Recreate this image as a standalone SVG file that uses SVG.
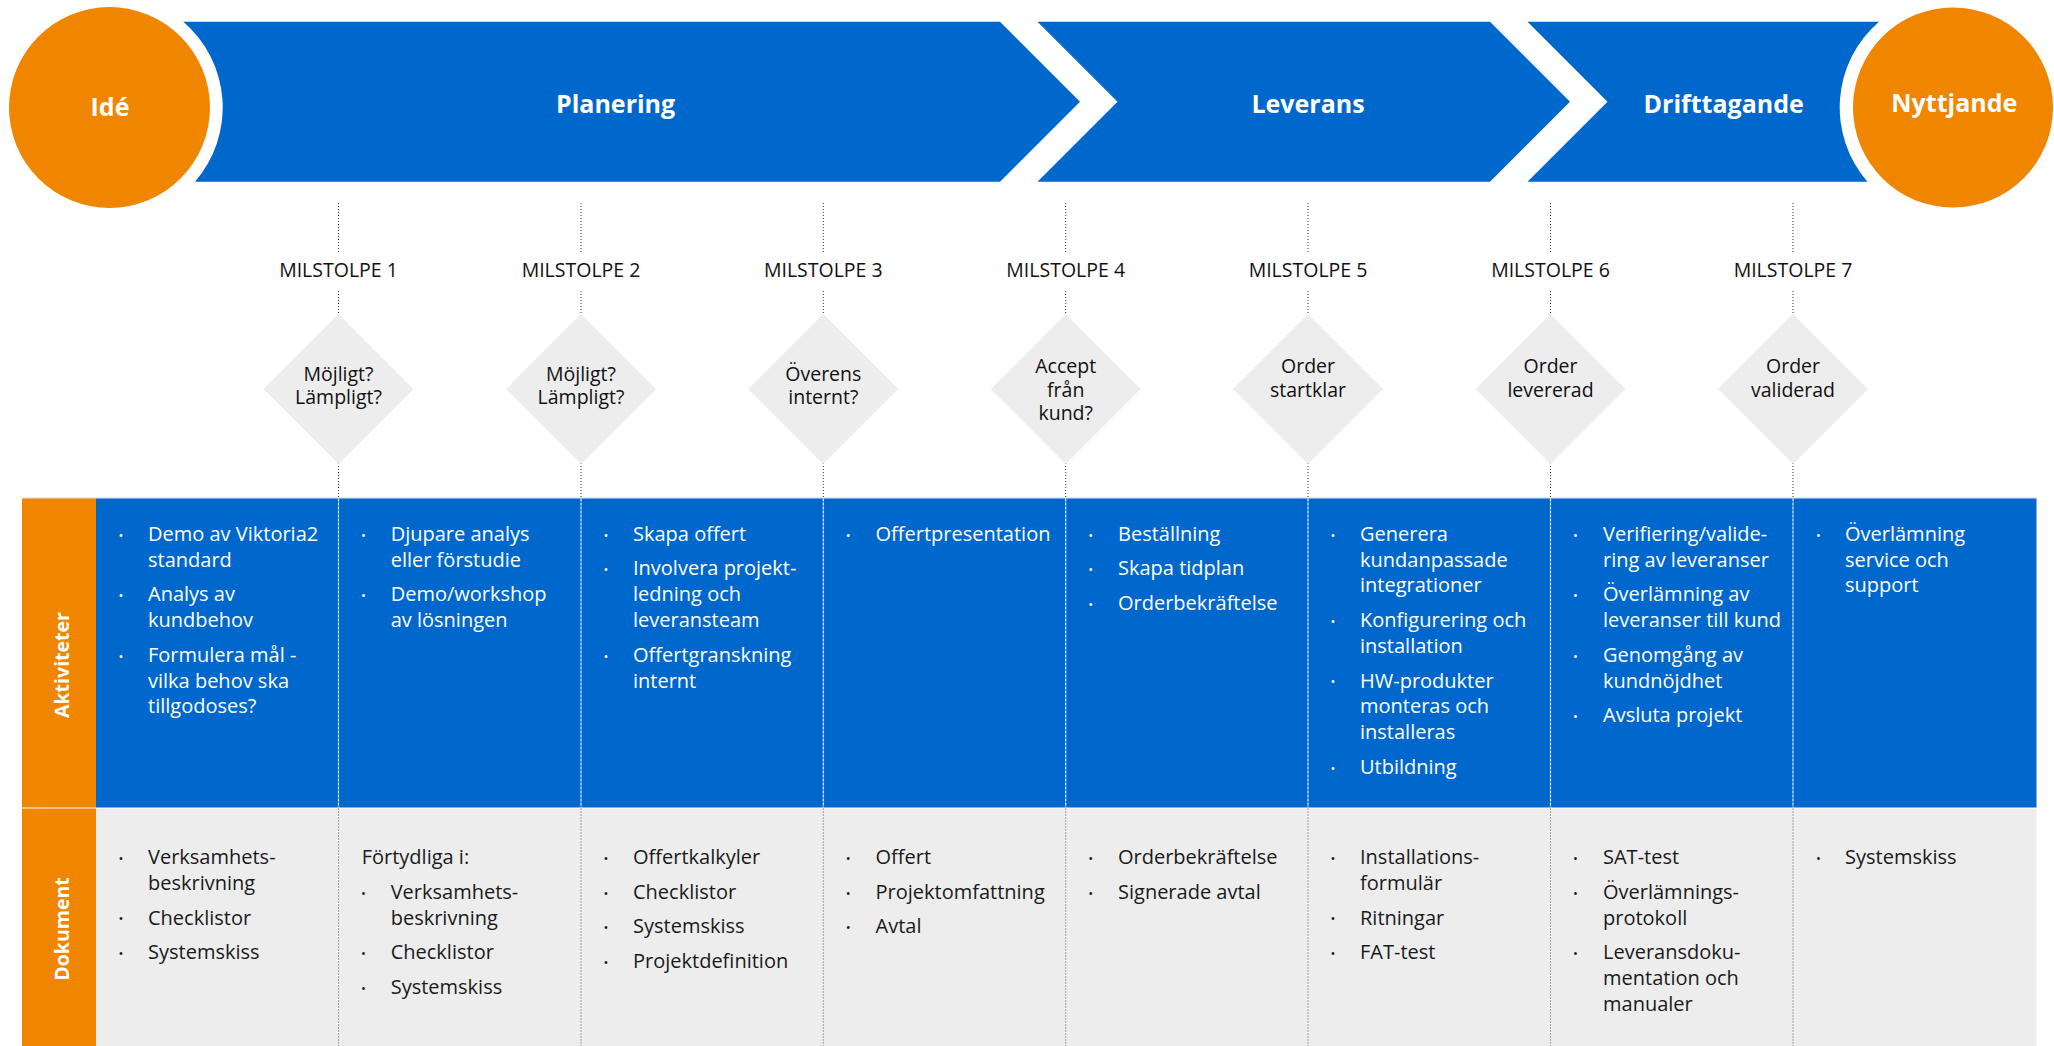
<svg xmlns="http://www.w3.org/2000/svg" width="2054" height="1046" viewBox="0 0 2054 1046">
<style>
text{font-family:"Open Sans","Liberation Sans",sans-serif}
.hdr{font-size:25px;font-weight:700;fill:#fff;text-anchor:middle}
.ms{font-size:19.5px;font-weight:500;fill:#111;text-anchor:middle}
.dq{font-size:19.5px;font-weight:500;fill:#111;text-anchor:middle}
.row{font-size:19.5px;font-weight:700;fill:#fff;text-anchor:middle}
.w{font-size:20px;fill:#fff}
.k{font-size:20px;fill:#1a1a1a}
.bw{font-size:13px;fill:#fff;text-anchor:middle}
.bk{font-size:13px;fill:#1a1a1a;text-anchor:middle}
.blue{fill:#0068CC}
.orange{fill:#F08500}
.dia{fill:#EDEDED}
.dot{stroke:#333;stroke-width:1;stroke-dasharray:1 2;fill:none}
.wsep{stroke:#E6EEF8;stroke-width:1.2;stroke-dasharray:3 1;fill:none}
.ksep{stroke:#555;stroke-width:1;stroke-dasharray:1 2;fill:none}
</style>
<rect width="2054" height="1046" fill="#fff"/>

<!-- Phase header -->
<g id="ide">
<circle class="orange" cx="109.5" cy="107.5" r="100.5"/>
<text class="hdr" x="110" y="115.7">Idé</text>
</g>
<g id="planering">
<path class="blue" d="M183.3,21.7 L1000,21.7 L1080,101.7 L1000,181.7 L195,181.7 A113.2,113.2 0 0 0 183.3,21.7 Z"/>
<text class="hdr" x="615.6" y="113">Planering</text>
</g>
<g id="leverans">
<path class="blue" d="M1037.5,21.7 L1490,21.7 L1570,101.7 L1490,181.7 L1037.5,181.7 L1117.5,101.7 Z"/>
<text class="hdr" x="1308" y="113">Leverans</text>
</g>
<g id="drifttagande">
<path class="blue" d="M1527.5,21.7 L1879,21.7 A113.3,113.3 0 0 0 1867.4,181.7 L1527.5,181.7 L1607.5,101.7 Z"/>
<text class="hdr" x="1723.7" y="113">Drifttagande</text>
</g>
<g id="nyttjande">
<circle class="orange" cx="1953" cy="107.5" r="100"/>
<text class="hdr" x="1954.3" y="112">Nyttjande</text>
</g>

<!-- Table background -->
<g id="table">
<rect x="22" y="497.5" width="2014.5" height="1" fill="#C9D5E8"/>
<rect class="orange" x="22" y="498.5" width="74" height="309"/>
<rect class="blue" x="96" y="498.5" width="1940.5" height="309"/>
<rect class="orange" x="22" y="808.5" width="74" height="237.5"/>
<rect x="96" y="808.5" width="1940.5" height="237.5" fill="#EDEDED"/>
</g>
<g id="row-aktiviteter">
<text class="row" transform="translate(69.3,665) rotate(-90)">Aktiviteter</text>
</g>
<g id="row-dokument">
<text class="row" transform="translate(69.3,929) rotate(-90)">Dokument</text>
</g>

<!-- Connectors: milestone dotted lines -->
<g id="connectors">
<path class="dot" d="M338.5,203V254M338.5,291V314M338.5,463V498"/>
<path class="dot" d="M581,203V254M581,291V314M581,463V498"/>
<path class="dot" d="M823.3,203V254M823.3,291V314M823.3,463V498"/>
<path class="dot" d="M1065.7,203V254M1065.7,291V314M1065.7,463V498"/>
<path class="dot" d="M1308,203V254M1308,291V314M1308,463V498"/>
<path class="dot" d="M1550.5,203V254M1550.5,291V314M1550.5,463V498"/>
<path class="dot" d="M1793,203V254M1793,291V314M1793,463V498"/>
<path class="wsep" d="M338.5,498.5V807.5M581,498.5V807.5M823.3,498.5V807.5M1065.7,498.5V807.5M1308,498.5V807.5M1550.5,498.5V807.5M1793,498.5V807.5"/>
<path class="ksep" d="M338.5,808.5V1046M581,808.5V1046M823.3,808.5V1046M1065.7,808.5V1046M1308,808.5V1046M1550.5,808.5V1046M1793,808.5V1046"/>
</g>

<!-- Milestones -->
<g id="milstolpe1">
<text class="ms" x="338.5" y="276.7">MILSTOLPE 1</text>
<polygon class="dia" points="338.5,314 413.5,389 338.5,464 263.5,389"/>
<text class="dq" x="338.5" y="380.5">Möjligt?</text>
<text class="dq" x="338.5" y="403.5">Lämpligt?</text>
</g>
<g id="milstolpe2">
<text class="ms" x="581" y="276.7">MILSTOLPE 2</text>
<polygon class="dia" points="581,314 656,389 581,464 506,389"/>
<text class="dq" x="581" y="380.5">Möjligt?</text>
<text class="dq" x="581" y="403.5">Lämpligt?</text>
</g>
<g id="milstolpe3">
<text class="ms" x="823.3" y="276.7">MILSTOLPE 3</text>
<polygon class="dia" points="823.3,314 898.3,389 823.3,464 748.3,389"/>
<text class="dq" x="823.3" y="380.5">Överens</text>
<text class="dq" x="823.3" y="403.5">internt?</text>
</g>
<g id="milstolpe4">
<text class="ms" x="1065.7" y="276.7">MILSTOLPE 4</text>
<polygon class="dia" points="1065.7,314 1140.7,389 1065.7,464 990.7,389"/>
<text class="dq" x="1065.7" y="373.3">Accept</text>
<text class="dq" x="1065.7" y="396.5">från</text>
<text class="dq" x="1065.7" y="419.7">kund?</text>
</g>
<g id="milstolpe5">
<text class="ms" x="1308" y="276.7">MILSTOLPE 5</text>
<polygon class="dia" points="1308,314 1383,389 1308,464 1233,389"/>
<text class="dq" x="1308" y="373.3">Order</text>
<text class="dq" x="1308" y="396.5">startklar</text>
</g>
<g id="milstolpe6">
<text class="ms" x="1550.5" y="276.7">MILSTOLPE 6</text>
<polygon class="dia" points="1550.5,314 1625.5,389 1550.5,464 1475.5,389"/>
<text class="dq" x="1550.5" y="373.3">Order</text>
<text class="dq" x="1550.5" y="396.5">levererad</text>
</g>
<g id="milstolpe7">
<text class="ms" x="1793" y="276.7">MILSTOLPE 7</text>
<polygon class="dia" points="1793,314 1868,389 1793,464 1718,389"/>
<text class="dq" x="1793" y="373.3">Order</text>
<text class="dq" x="1793" y="396.5">validerad</text>
</g>

<!-- Aktiviteter cells -->
<g id="akt-1">
<text class="bw" x="121" y="539.5">•</text><text class="w" x="148" y="540.7">Demo av Viktoria2</text><text class="w" x="148" y="566.5">standard</text>
<text class="bw" x="121" y="600">•</text><text class="w" x="148" y="601.2">Analys av</text><text class="w" x="148" y="627">kundbehov</text>
<text class="bw" x="121" y="660.5">•</text><text class="w" x="148" y="661.7">Formulera mål -</text><text class="w" x="148" y="687.5">vilka behov ska</text><text class="w" x="148" y="713.3">tillgodoses?</text>
</g>
<g id="akt-2">
<text class="bw" x="363.5" y="539.5">•</text><text class="w" x="390.7" y="540.7">Djupare analys</text><text class="w" x="390.7" y="566.5">eller förstudie</text>
<text class="bw" x="363.5" y="600">•</text><text class="w" x="390.7" y="601.2">Demo/workshop</text><text class="w" x="390.7" y="627">av lösningen</text>
</g>
<g id="akt-3">
<text class="bw" x="606" y="539.5">•</text><text class="w" x="633" y="540.7">Skapa offert</text>
<text class="bw" x="606" y="574.2">•</text><text class="w" x="633" y="575.4">Involvera projekt-</text><text class="w" x="633" y="601.2">ledning och</text><text class="w" x="633" y="627">leveransteam</text>
<text class="bw" x="606" y="660.5">•</text><text class="w" x="633" y="661.7">Offertgranskning</text><text class="w" x="633" y="687.5">internt</text>
</g>
<g id="akt-4">
<text class="bw" x="848.3" y="539.5">•</text><text class="w" x="875.5" y="540.7">Offertpresentation</text>
</g>
<g id="akt-5">
<text class="bw" x="1090.7" y="539.5">•</text><text class="w" x="1118" y="540.7">Beställning</text>
<text class="bw" x="1090.7" y="574.2">•</text><text class="w" x="1118" y="575.4">Skapa tidplan</text>
<text class="bw" x="1090.7" y="608.9">•</text><text class="w" x="1118" y="610.1">Orderbekräftelse</text>
</g>
<g id="akt-6">
<text class="bw" x="1333" y="539.5">•</text><text class="w" x="1360" y="540.7">Generera</text><text class="w" x="1360" y="566.5">kundanpassade</text><text class="w" x="1360" y="592.3">integrationer</text>
<text class="bw" x="1333" y="625.8">•</text><text class="w" x="1360" y="627">Konfigurering och</text><text class="w" x="1360" y="652.8">installation</text>
<text class="bw" x="1333" y="686.3">•</text><text class="w" x="1360" y="687.5">HW-produkter</text><text class="w" x="1360" y="713.3">monteras och</text><text class="w" x="1360" y="739.1">installeras</text>
<text class="bw" x="1333" y="772.6">•</text><text class="w" x="1360" y="773.8">Utbildning</text>
</g>
<g id="akt-7">
<text class="bw" x="1575.5" y="539.5">•</text><text class="w" x="1603" y="540.7">Verifiering/valide-</text><text class="w" x="1603" y="566.5">ring av leveranser</text>
<text class="bw" x="1575.5" y="600">•</text><text class="w" x="1603" y="601.2">Överlämning av</text><text class="w" x="1603" y="627">leveranser till kund</text>
<text class="bw" x="1575.5" y="660.5">•</text><text class="w" x="1603" y="661.7">Genomgång av</text><text class="w" x="1603" y="687.5">kundnöjdhet</text>
<text class="bw" x="1575.5" y="721">•</text><text class="w" x="1603" y="722.2">Avsluta projekt</text>
</g>
<g id="akt-8">
<text class="bw" x="1818.5" y="539.5">•</text><text class="w" x="1845" y="540.7">Överlämning</text><text class="w" x="1845" y="566.5">service och</text><text class="w" x="1845" y="592.3">support</text>
</g>

<!-- Dokument cells -->
<g id="dok-1">
<text class="bk" x="121" y="862.8">•</text><text class="k" x="148" y="864">Verksamhets-</text><text class="k" x="148" y="889.8">beskrivning</text>
<text class="bk" x="121" y="923.3">•</text><text class="k" x="148" y="924.5">Checklistor</text>
<text class="bk" x="121" y="958">•</text><text class="k" x="148" y="959.2">Systemskiss</text>
</g>
<g id="dok-2">
<text class="k" x="361.7" y="864">Förtydliga i:</text>
<text class="bk" x="363.5" y="897.5">•</text><text class="k" x="390.7" y="898.7">Verksamhets-</text><text class="k" x="390.7" y="924.5">beskrivning</text>
<text class="bk" x="363.5" y="958">•</text><text class="k" x="390.7" y="959.2">Checklistor</text>
<text class="bk" x="363.5" y="992.7">•</text><text class="k" x="390.7" y="993.9">Systemskiss</text>
</g>
<g id="dok-3">
<text class="bk" x="606" y="862.8">•</text><text class="k" x="633" y="864">Offertkalkyler</text>
<text class="bk" x="606" y="897.5">•</text><text class="k" x="633" y="898.7">Checklistor</text>
<text class="bk" x="606" y="932.2">•</text><text class="k" x="633" y="933.4">Systemskiss</text>
<text class="bk" x="606" y="966.9">•</text><text class="k" x="633" y="968.1">Projektdefinition</text>
</g>
<g id="dok-4">
<text class="bk" x="848.3" y="862.8">•</text><text class="k" x="875.5" y="864">Offert</text>
<text class="bk" x="848.3" y="897.5">•</text><text class="k" x="875.5" y="898.7">Projektomfattning</text>
<text class="bk" x="848.3" y="932.2">•</text><text class="k" x="875.5" y="933.4">Avtal</text>
</g>
<g id="dok-5">
<text class="bk" x="1090.7" y="862.8">•</text><text class="k" x="1118" y="864">Orderbekräftelse</text>
<text class="bk" x="1090.7" y="897.5">•</text><text class="k" x="1118" y="898.7">Signerade avtal</text>
</g>
<g id="dok-6">
<text class="bk" x="1333" y="862.8">•</text><text class="k" x="1360" y="864">Installations-</text><text class="k" x="1360" y="889.8">formulär</text>
<text class="bk" x="1333" y="923.3">•</text><text class="k" x="1360" y="924.5">Ritningar</text>
<text class="bk" x="1333" y="958">•</text><text class="k" x="1360" y="959.2">FAT-test</text>
</g>
<g id="dok-7">
<text class="bk" x="1575.5" y="862.8">•</text><text class="k" x="1603" y="864">SAT-test</text>
<text class="bk" x="1575.5" y="897.5">•</text><text class="k" x="1603" y="898.7">Överlämnings-</text><text class="k" x="1603" y="924.5">protokoll</text>
<text class="bk" x="1575.5" y="958">•</text><text class="k" x="1603" y="959.2">Leveransdoku-</text><text class="k" x="1603" y="985">mentation och</text><text class="k" x="1603" y="1010.8">manualer</text>
</g>
<g id="dok-8">
<text class="bk" x="1818.5" y="862.8">•</text><text class="k" x="1845" y="864">Systemskiss</text>
</g>
</svg>
